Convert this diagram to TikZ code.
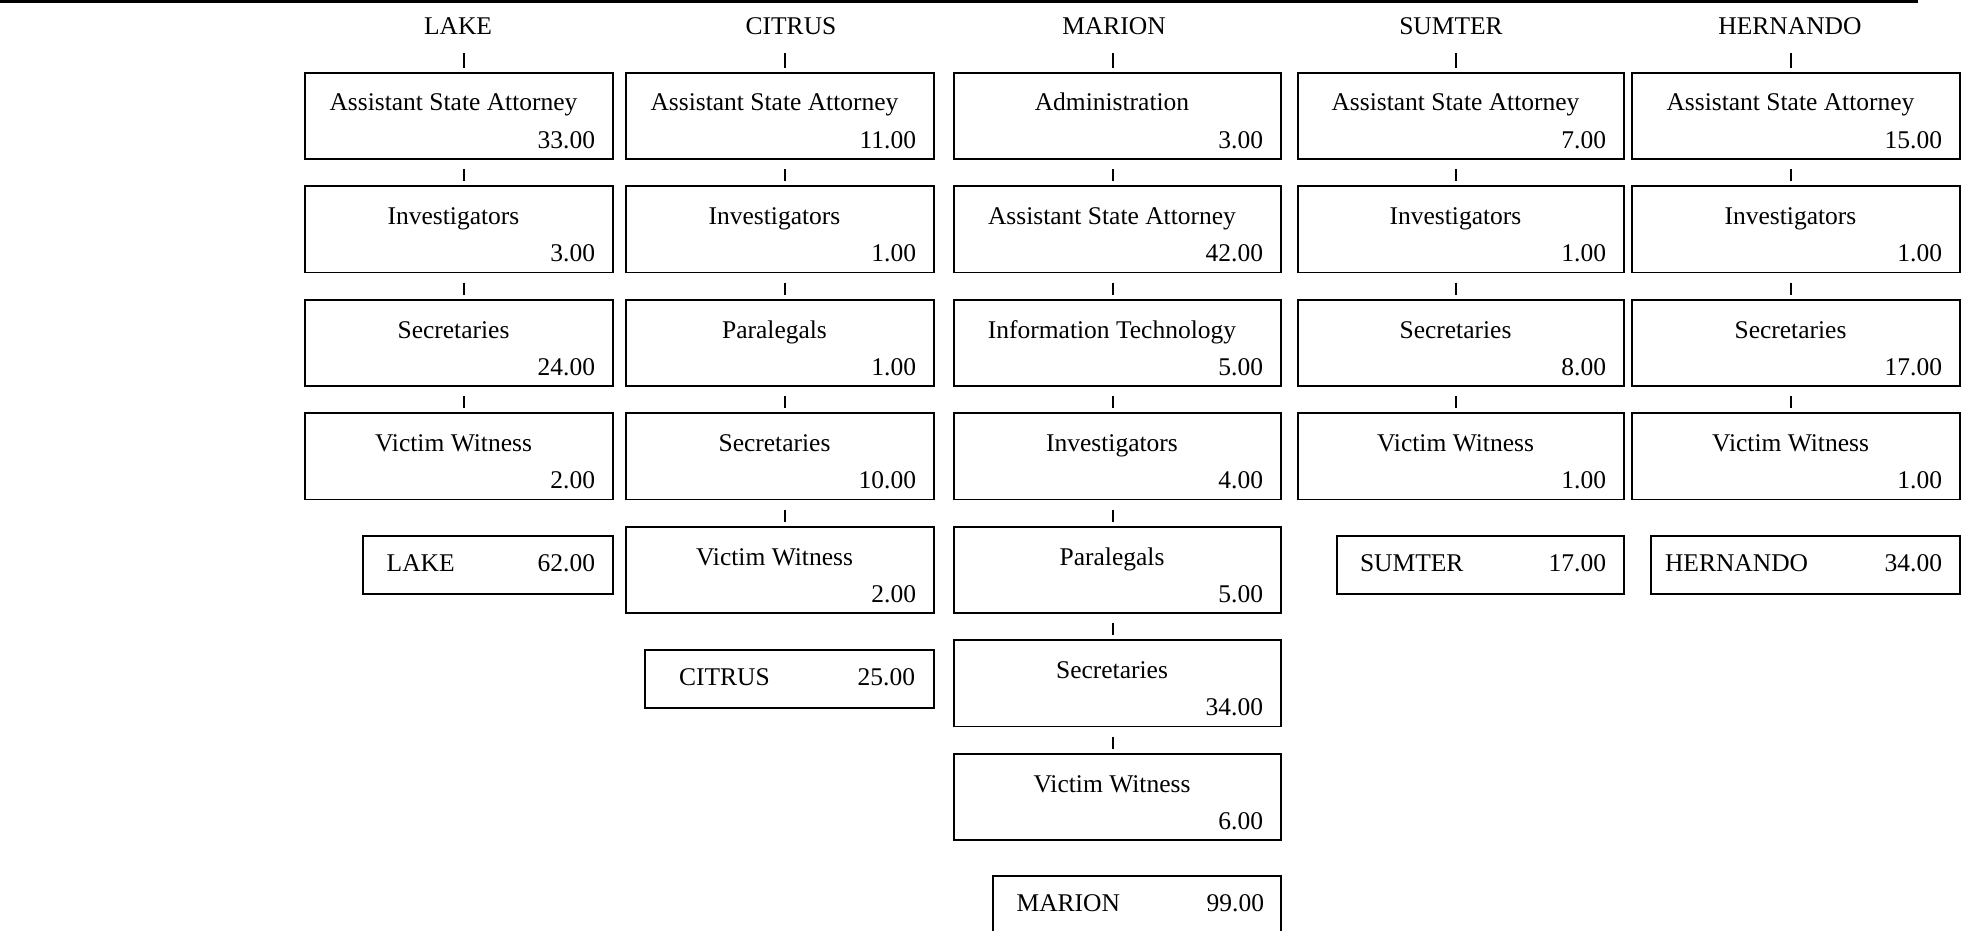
\documentclass[tikz,border=0pt]{standalone}
\usepackage{fontspec}
\setmainfont{Liberation Serif}
\usetikzlibrary{calc}

\tikzset{
  cell/.style={draw, line width=1.9pt, rectangle, inner sep=0pt, outer sep=0pt, minimum height=86.3pt},
  sumcell/.style={draw, line width=1.9pt, rectangle, inner sep=0pt, outer sep=0pt, minimum height=57.7pt},
  txt/.style={inner sep=0pt, outer sep=0pt, font=\fontsize{25.5}{30}\selectfont},
  tickline/.style={line width=1.5pt},
  rule/.style={line width=3.5pt},
}

% position box: name, left x, right x, top y, tick x, title, value
\newcommand\unitbox[7]{%
  \node[cell, minimum width={(#3)-(#2)}] (#1) at ({((#2)+(#3))/2},{(#4)+43.15}) {};
  \coordinate (#1-k) at (#5,#4);
  \node[txt, anchor=base] (#1-t) at ({((#2)+(#3))/2-5.5},{(#4)+38.3}) {#6};
  \node[txt, anchor=base east] (#1-v) at ({(#3)-18},{(#4)+75.6}) {#7};
}
% county total: name, left x, right x, top y, label, label x, value, value right x
\newcommand\sumbox[8]{%
  \node[sumcell, minimum width={(#3)-(#2)}] (#1) at ({((#2)+(#3))/2},{(#4)+28.85}) {};
  \node[txt, anchor=base west] (#1-l) at (#6,{(#4)+35.7}) {#5};
  \node[txt, anchor=base east] (#1-v) at (#8,{(#4)+35.7}) {#7};
}
% short tick between two stacked boxes
\newcommand\stacktick[2]{%
  \draw[tickline] ($(#1-k |- #1.south)!0.375!(#2-k |- #2.north)$)
               -- ($(#1-k |- #1.south)!0.825!(#2-k |- #2.north)$);
}
% short tick under a column heading
\newcommand\headtick[2]{%
  \draw[tickline] ($(#2-k |- #1.base)!0.49!(#2-k |- #2.north)$)
               -- ($(#2-k |- #1.base)!0.885!(#2-k |- #2.north)$);
}

\begin{document}
\begin{tikzpicture}[x=1pt,y=-1pt]
\useasboundingbox (0,0) rectangle (1963,931);

\coordinate (ruleL) at (0,1.75);
\coordinate (ruleR) at (1918,1.75);
\draw[rule] (ruleL) -- (ruleR);

% column headings
\node[txt, anchor=base] (hLake) at (458,34.5) {LAKE};
\node[txt, anchor=base] (hCitrus) at (791,34.5) {CITRUS};
\node[txt, anchor=base] (hMarion) at (1114,34.5) {MARION};
\node[txt, anchor=base] (hSumter) at (1451,34.5) {SUMTER};
\node[txt, anchor=base] (hHernando) at (1790,34.5) {HERNANDO};

% LAKE
\unitbox{L1}{305}{613}{72.7}{464}{Assistant State Attorney}{33.00}
\unitbox{L2}{305}{613}{186.2}{464}{Investigators}{3.00}
\unitbox{L3}{305}{613}{299.7}{464}{Secretaries}{24.00}
\unitbox{L4}{305}{613}{413.2}{464}{Victim Witness}{2.00}
\sumbox{LT}{363}{613}{536}{LAKE}{386.7}{62.00}{595}
\headtick{hLake}{L1}
\stacktick{L1}{L2}
\stacktick{L2}{L3}
\stacktick{L3}{L4}

% CITRUS
\unitbox{C1}{626}{934}{72.7}{785}{Assistant State Attorney}{11.00}
\unitbox{C2}{626}{934}{186.2}{785}{Investigators}{1.00}
\unitbox{C3}{626}{934}{299.7}{785}{Paralegals}{1.00}
\unitbox{C4}{626}{934}{413.2}{785}{Secretaries}{10.00}
\unitbox{C5}{626}{934}{526.7}{785}{Victim Witness}{2.00}
\sumbox{CT}{645}{934}{650}{CITRUS}{679}{25.00}{915}
\headtick{hCitrus}{C1}
\stacktick{C1}{C2}
\stacktick{C2}{C3}
\stacktick{C3}{C4}
\stacktick{C4}{C5}

% MARION
\unitbox{M1}{954}{1281}{72.7}{1113}{Administration}{3.00}
\unitbox{M2}{954}{1281}{186.2}{1113}{Assistant State Attorney}{42.00}
\unitbox{M3}{954}{1281}{299.7}{1113}{Information Technology}{5.00}
\unitbox{M4}{954}{1281}{413.2}{1113}{Investigators}{4.00}
\unitbox{M5}{954}{1281}{526.7}{1113}{Paralegals}{5.00}
\unitbox{M6}{954}{1281}{640.2}{1113}{Secretaries}{34.00}
\unitbox{M7}{954}{1281}{753.7}{1113}{Victim Witness}{6.00}
\sumbox{MT}{993}{1281}{876}{MARION}{1016.6}{99.00}{1264}
\headtick{hMarion}{M1}
\stacktick{M1}{M2}
\stacktick{M2}{M3}
\stacktick{M3}{M4}
\stacktick{M4}{M5}
\stacktick{M5}{M6}
\stacktick{M6}{M7}

% SUMTER
\unitbox{S1}{1298}{1624}{72.7}{1456}{Assistant State Attorney}{7.00}
\unitbox{S2}{1298}{1624}{186.2}{1456}{Investigators}{1.00}
\unitbox{S3}{1298}{1624}{299.7}{1456}{Secretaries}{8.00}
\unitbox{S4}{1298}{1624}{413.2}{1456}{Victim Witness}{1.00}
\sumbox{ST}{1337}{1624}{536}{SUMTER}{1360}{17.00}{1606}
\headtick{hSumter}{S1}
\stacktick{S1}{S2}
\stacktick{S2}{S3}
\stacktick{S3}{S4}

% HERNANDO
\unitbox{H1}{1632}{1960}{72.7}{1791}{Assistant State Attorney}{15.00}
\unitbox{H2}{1632}{1960}{186.2}{1791}{Investigators}{1.00}
\unitbox{H3}{1632}{1960}{299.7}{1791}{Secretaries}{17.00}
\unitbox{H4}{1632}{1960}{413.2}{1791}{Victim Witness}{1.00}
\sumbox{HT}{1651}{1960}{536}{HERNANDO}{1665}{34.00}{1942}
\headtick{hHernando}{H1}
\stacktick{H1}{H2}
\stacktick{H2}{H3}
\stacktick{H3}{H4}
\end{tikzpicture}
\end{document}
